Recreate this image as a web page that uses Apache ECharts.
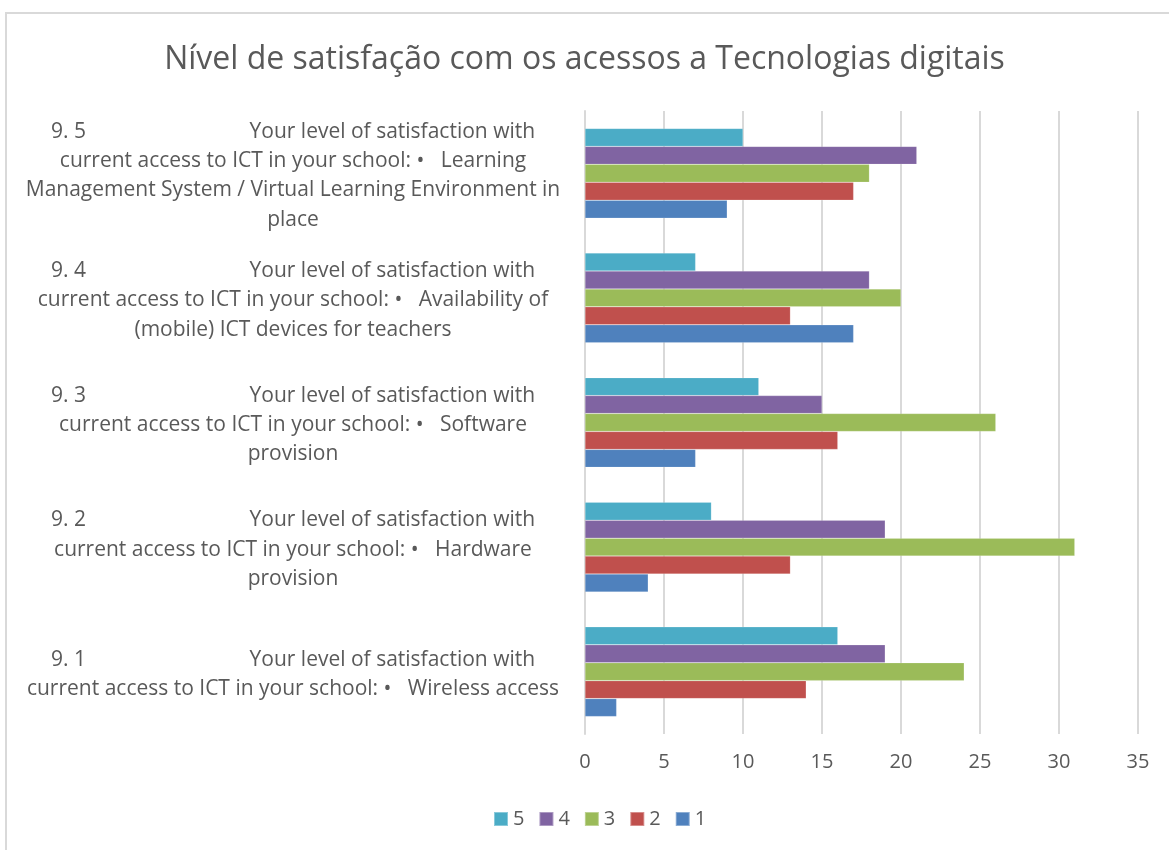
<!DOCTYPE html>
<html>
<head>
<meta charset="utf-8">
<script src="https://cdn.jsdelivr.net/npm/echarts@6/dist/echarts.min.js"></script>
<style>
  html, body { margin: 0; padding: 0; background: #fff; }
  #frame { position: absolute; left: 5px; top: 12px; width: 1180px; height: 860px; border: 2px solid #d9d9d9; box-sizing: border-box; }
  #satisfacao { position: absolute; left: 0; top: 0; width: 1169px; height: 850px; }
</style>
</head>
<body>
<div id="frame"></div>
<div id="satisfacao"></div>
<script>
var categories = [
    '9. 1                              Your level of satisfaction with\ncurrent access to ICT in your school: •   Wireless access',
    '9. 2                              Your level of satisfaction with\ncurrent access to ICT in your school: •   Hardware\nprovision',
    '9. 3                              Your level of satisfaction with\ncurrent access to ICT in your school: •   Software\nprovision',
    '9. 4                              Your level of satisfaction with\ncurrent access to ICT in your school: •   Availability of\n(mobile) ICT devices for teachers',
    '9. 5                              Your level of satisfaction with\ncurrent access to ICT in your school: •   Learning\nManagement System / Virtual Learning Environment in\nplace'
];
var seriesNames = ['5', '4', '3', '2', '1'];
var values5 = [16, 8, 11, 7, 10];
var values4 = [19, 19, 15, 18, 21];
var values3 = [24, 31, 26, 20, 18];
var values2 = [14, 13, 16, 13, 17];
var values1 = [2, 4, 7, 17, 9];
var colors = ['#4BACC6', '#8064A2', '#9BBB59', '#C0504D', '#4F81BD'];
var xTicks = [0, 35, 5];

function satisfacaoChart(){
    var allValues = [values5, values4, values3, values2, values1];
    var series = [];
    for (var i = 0; i < seriesNames.length; i++) {
        series.push({
            name: seriesNames[i],
            type: 'bar',
            data: allValues[i],
            barGap: '0%',
            barCategoryGap: '28%',
            itemStyle: {
                color: colors[i],
                borderColor: 'rgba(255,255,255,0.35)',
                borderWidth: 0.5
            }
        });
    }

    satisfacaoOption = {
        backgroundColor: 'transparent',
        color: colors,
        title: {
            text: 'Nível de satisfação com os acessos a Tecnologias digitais',
            left: 'center',
            top: 39,
            textStyle: {
                fontFamily: 'Open Sans',
                fontWeight: 'normal',
                fontSize: 32,
                color: '#595959'
            }
        },
        legend: {
            bottom: 16,
            left: 488,
            data: seriesNames,
            icon: 'rect',
            itemWidth: 14,
            itemHeight: 14,
            itemGap: 14,
            textStyle: {
                fontFamily: 'Open Sans',
                fontSize: 20,
                color: '#595959'
            }
        },
        grid: {
            left: 585,
            right: 31,
            top: 111,
            bottom: 116
        },
        xAxis: {
            type: 'value',
            min: xTicks[0],
            max: xTicks[1],
            interval: xTicks[2],
            axisLine: {show: false},
            axisTick: {show: false},
            splitLine: {lineStyle: {color: '#d9d9d9', width: 2}},
            axisLabel: {
                margin: 18,
                fontFamily: 'Open Sans',
                fontSize: 20,
                color: '#595959'
            }
        },
        yAxis: {
            type: 'category',
            data: categories,
            axisLine: {show: true, lineStyle: {color: '#d9d9d9', width: 2}},
            axisTick: {show: false},
            axisLabel: {
                margin: 22,
                align: 'right',
                padding: [5, 0, 0, 0],
                fontFamily: 'Open Sans',
                fontSize: 21,
                color: '#595959',
                formatter: function (v) {
                    return v.split('\n').map(function (line) {
                        return '{c|' + line + '}';
                    }).join('\n');
                },
                rich: {
                    c: {
                        width: 540,
                        align: 'center',
                        fontFamily: 'Open Sans',
                        fontSize: 21,
                        lineHeight: 29.3,
                        color: '#595959'
                    }
                }
            }
        },
        series: series
    };

    var satisfacao = echarts.init(document.getElementById('satisfacao'));
    satisfacao.setOption(satisfacaoOption);
}
satisfacaoChart();
</script>
</body>
</html>
